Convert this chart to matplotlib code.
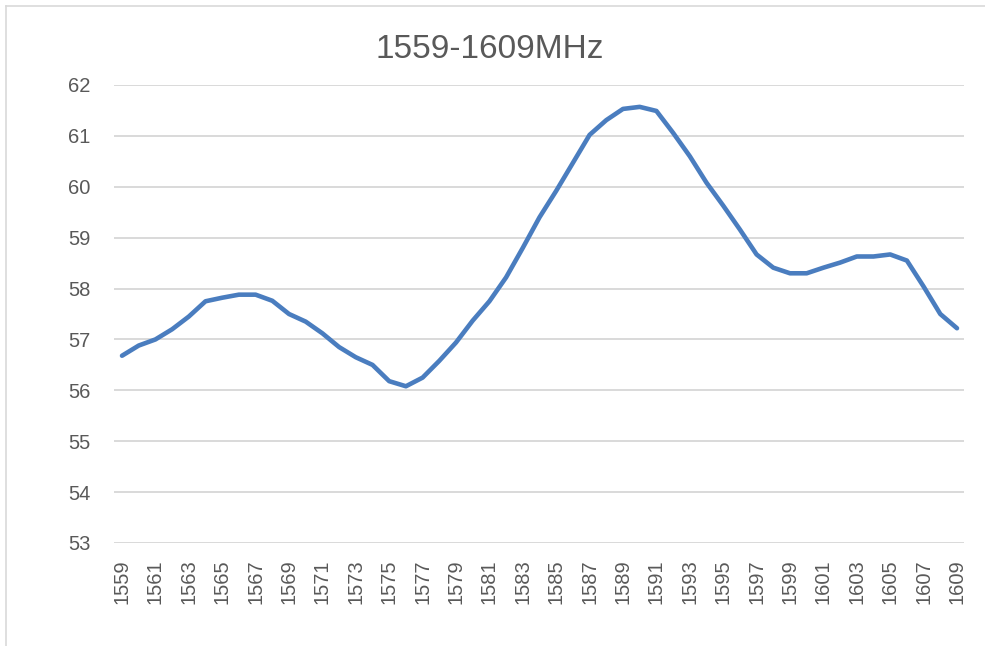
import matplotlib
matplotlib.use("Agg")
import matplotlib.pyplot as plt
from matplotlib.lines import Line2D

freqs = list(range(1559, 1610))
values = [56.68, 56.88, 57.00, 57.20, 57.45, 57.75, 57.82, 57.88, 57.88, 57.76,
          57.50, 57.35, 57.12, 56.85, 56.65, 56.50, 56.18, 56.08, 56.25, 56.58,
          56.94, 57.37, 57.75, 58.22, 58.80, 59.40, 59.92, 60.47, 61.02, 61.31,
          61.53, 61.57, 61.49, 61.06, 60.60, 60.08, 59.63, 59.16, 58.67, 58.41,
          58.30, 58.30, 58.41, 58.51, 58.63, 58.63, 58.67, 58.55, 58.04, 57.50,
          57.22]
xtick_labels = [str(f) for f in range(1559, 1610, 2)]
yticks = list(range(53, 63))
title = "1559-1609MHz"

plt.rcParams['font.family'] = ['Liberation Sans', 'DejaVu Sans']

W, H = 985, 646
fig = plt.figure(figsize=(W / 100, H / 100), dpi=100)
ax = fig.add_axes([114 / W, 1 - 543 / H, (964 - 114) / W, (543 - 85) / H])

ax.plot(freqs, values, color='#4A7DBF', linewidth=3.3, solid_capstyle='round',
        solid_joinstyle='round', zorder=3)

ax.set_xlim(1558.52, 1609.42)
ax.set_ylim(53, 62)
ax.set_yticks(yticks)
ax.set_xticks(list(range(1559, 1610, 2)))
ax.set_xticklabels(xtick_labels, rotation=90)
ax.grid(axis='y', color='#D9D9D9', linewidth=1.4, zorder=0)
for s in ax.spines.values():
    s.set_visible(False)
ax.tick_params(axis='both', length=0, colors='#595959', labelsize=14.5)
ax.tick_params(axis='y', pad=17)
ax.tick_params(axis='x', pad=12)

fig.text(0.497, 1 - 50 / H, title, ha='center', va='center', fontsize=24,
         color='#595959')

# chart border (top and left visible)
fig.add_artist(Line2D([6 / W, 6 / W], [0, 1 - 6 / H], transform=fig.transFigure,
                      color='#D9D9D9', linewidth=1.2))
fig.add_artist(Line2D([6 / W, 1], [1 - 6 / H, 1 - 6 / H], transform=fig.transFigure,
                      color='#D9D9D9', linewidth=1.2))

fig.savefig("out.png", dpi=100, facecolor='white')
